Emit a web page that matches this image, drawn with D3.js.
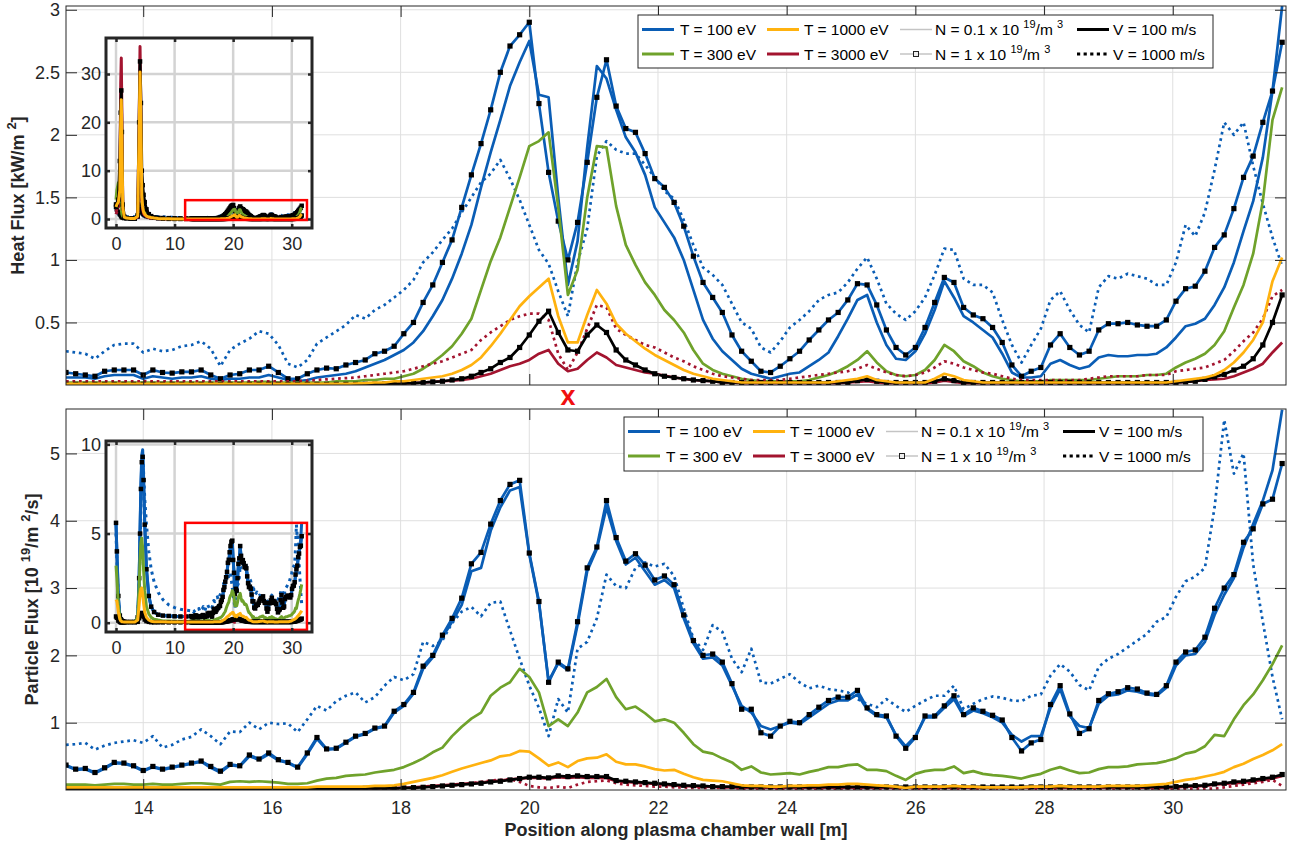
<!DOCTYPE html>
<html>
<head>
<meta charset="utf-8">
<title>Heat and particle flux along the plasma chamber wall</title>
<script src="https://cdn.jsdelivr.net/npm/d3@7/dist/d3.min.js"></script>
<style>
  html, body { margin: 0; padding: 0; background: #fff; }
  svg { display: block; }
  svg text { font-family: "Liberation Sans", Arial, Helvetica, sans-serif; white-space: pre; }
</style>
</head>
<body>
<svg id="fig" width="1298" height="846"></svg>
<script>
// ---------------- sampling positions along the wall [m] ----------------
const wallPosition = [
  12.80,12.95,13.10,13.25,13.40,13.55,13.70,13.85,14.00,14.15,
  14.30,14.45,14.60,14.75,14.90,15.05,15.20,15.35,15.50,15.65,
  15.80,15.95,16.10,16.25,16.40,16.55,16.70,16.85,17.00,17.15,
  17.30,17.45,17.60,17.75,17.90,18.05,18.20,18.35,18.50,18.65,
  18.80,18.95,19.10,19.25,19.40,19.55,19.70,19.85,20.00,20.15,
  20.30,20.45,20.60,20.75,20.90,21.05,21.20,21.35,21.50,21.65,
  21.80,21.95,22.10,22.25,22.40,22.55,22.70,22.85,23.00,23.15,
  23.30,23.45,23.60,23.75,23.90,24.05,24.20,24.35,24.50,24.65,
  24.80,24.95,25.10,25.25,25.40,25.55,25.70,25.85,26.00,26.15,
  26.30,26.45,26.60,26.75,26.90,27.05,27.20,27.35,27.50,27.65,
  27.80,27.95,28.10,28.25,28.40,28.55,28.70,28.85,29.00,29.15,
  29.30,29.45,29.60,29.75,29.90,30.05,30.20,30.35,30.50,30.65,
  30.80,30.95,31.10,31.25,31.40,31.55,31.70
];
// extra sampling positions for the full-wall overview (start of the wall)
const insetPosition = [0,0.15,0.4,0.65,0.8,0.9,1.0,1.15,1.4,1.8,2.5,3.2,3.7,3.95,4.1,4.25,4.4,4.55,4.7,4.9,5.2,5.6,6.0,6.5,7.2,8.0,9.0,10.0,11.0,12.0];

const wallTicks = [14,16,18,20,22,24,26,28,30];
const heatTicks = [0.5,1,1.5,2,2.5,3];
const particleTicks = [1,2,3,4,5];
const insetWallTicks = [0,10,20,30];
const heatInsetTicks = [0,10,20,30];
const particleInsetTicks = [0,5,10];

// ---------------- heat flux [kW/m^2] ----------------
const heatT100N1 = [
  0.10,0.09,0.08,0.07,0.11,0.12,0.12,0.12,0.08,0.12,
  0.10,0.095,0.105,0.105,0.12,0.08,0.05,0.08,0.09,0.12,
  0.12,0.15,0.10,0.05,0.05,0.09,0.12,0.135,0.13,0.16,
  0.18,0.20,0.25,0.27,0.31,0.41,0.50,0.66,0.80,0.98,
  1.16,1.42,1.68,1.93,2.20,2.50,2.71,2.80,2.90,2.25,
  1.70,1.31,1.00,1.30,1.78,2.30,2.60,2.23,2.05,2.02,
  1.85,1.65,1.58,1.46,1.27,1.03,0.82,0.70,0.58,0.40,
  0.27,0.19,0.11,0.10,0.15,0.21,0.27,0.36,0.44,0.52,
  0.58,0.68,0.81,0.80,0.64,0.44,0.30,0.24,0.30,0.46,
  0.66,0.86,0.82,0.62,0.56,0.53,0.46,0.34,0.16,0.07,
  0.11,0.14,0.32,0.41,0.30,0.24,0.27,0.44,0.49,0.49,
  0.50,0.48,0.47,0.47,0.52,0.67,0.77,0.79,0.91,1.10,
  1.20,1.41,1.66,1.83,2.10,2.35,2.74
];
const heatT100 = [
  0.06,0.06,0.06,0.05,0.07,0.08,0.08,0.08,0.05,0.07,
  0.06,0.05,0.06,0.06,0.07,0.05,0.04,0.05,0.05,0.06,
  0.06,0.08,0.06,0.04,0.03,0.04,0.06,0.07,0.08,0.09,
  0.11,0.14,0.17,0.20,0.24,0.28,0.34,0.43,0.55,0.68,
  0.85,1.05,1.28,1.58,1.86,2.12,2.39,2.58,2.75,2.32,
  2.30,1.50,0.80,1.15,1.90,2.55,2.45,2.20,1.98,1.86,
  1.68,1.42,1.30,1.18,1.00,0.76,0.52,0.37,0.27,0.20,
  0.13,0.09,0.07,0.05,0.07,0.09,0.10,0.15,0.20,0.26,
  0.39,0.53,0.68,0.72,0.50,0.32,0.21,0.20,0.27,0.41,
  0.60,0.83,0.70,0.55,0.50,0.44,0.38,0.25,0.10,0.06,
  0.06,0.07,0.17,0.20,0.16,0.13,0.15,0.22,0.24,0.23,
  0.23,0.24,0.24,0.25,0.30,0.38,0.47,0.49,0.53,0.64,
  0.78,0.98,1.23,1.47,1.82,2.35,3.03
];
const heatT100V1000 = [
  0.27,0.26,0.25,0.21,0.27,0.32,0.33,0.33,0.26,0.29,
  0.27,0.28,0.31,0.32,0.35,0.29,0.15,0.28,0.33,0.37,
  0.43,0.41,0.32,0.17,0.14,0.20,0.33,0.38,0.43,0.48,
  0.56,0.53,0.60,0.64,0.70,0.76,0.84,0.98,1.06,1.16,
  1.25,1.38,1.50,1.62,1.69,1.80,1.65,1.48,1.28,1.08,
  0.97,0.75,0.55,0.98,1.25,1.83,1.95,1.88,1.85,1.85,
  1.76,1.66,1.55,1.49,1.32,1.12,0.94,0.88,0.80,0.65,
  0.50,0.45,0.30,0.26,0.35,0.46,0.52,0.59,0.68,0.72,
  0.74,0.82,0.93,1.02,0.85,0.65,0.57,0.52,0.59,0.70,
  0.88,1.09,1.08,0.85,0.80,0.80,0.74,0.52,0.32,0.18,
  0.32,0.45,0.68,0.75,0.60,0.48,0.42,0.78,0.87,0.85,
  0.89,0.87,0.85,0.80,0.80,0.98,1.28,1.19,1.38,1.72,
  2.10,2.00,2.10,1.75,1.45,1.18,0.95
];
const heatT300 = [
  0.02,0.02,0.02,0.02,0.02,0.02,0.02,0.02,0.02,0.02,
  0.02,0.02,0.02,0.02,0.02,0.02,0.02,0.02,0.02,0.02,
  0.025,0.025,0.02,0.02,0.02,0.02,0.02,0.02,0.03,0.03,
  0.03,0.04,0.04,0.05,0.05,0.07,0.09,0.13,0.18,0.24,
  0.31,0.41,0.53,0.76,0.99,1.18,1.42,1.66,1.91,1.95,
  2.02,1.42,0.72,0.92,1.50,1.91,1.90,1.43,1.12,0.96,
  0.82,0.72,0.60,0.52,0.42,0.28,0.17,0.12,0.09,0.07,
  0.05,0.04,0.03,0.03,0.03,0.03,0.03,0.04,0.06,0.08,
  0.11,0.15,0.20,0.27,0.18,0.11,0.08,0.07,0.08,0.12,
  0.20,0.32,0.27,0.19,0.15,0.10,0.07,0.05,0.04,0.03,
  0.03,0.03,0.04,0.04,0.04,0.04,0.04,0.05,0.06,0.07,
  0.07,0.07,0.08,0.08,0.09,0.14,0.18,0.21,0.25,0.32,
  0.43,0.62,0.80,1.05,1.47,2.12,2.38
];
const heatT1000 = [
  0.01,0.01,0.01,0.01,0.01,0.01,0.01,0.01,0.01,0.01,
  0.01,0.01,0.01,0.01,0.01,0.01,0.01,0.01,0.01,0.01,
  0.01,0.01,0.01,0.01,0.01,0.01,0.01,0.01,0.01,0.01,
  0.012,0.015,0.02,0.02,0.03,0.03,0.04,0.05,0.06,0.07,
  0.09,0.12,0.16,0.22,0.31,0.41,0.52,0.63,0.71,0.78,
  0.85,0.55,0.34,0.34,0.56,0.76,0.65,0.49,0.41,0.35,
  0.29,0.24,0.20,0.16,0.12,0.09,0.07,0.05,0.04,0.03,
  0.02,0.02,0.02,0.02,0.02,0.02,0.02,0.02,0.02,0.02,
  0.03,0.04,0.05,0.07,0.04,0.03,0.02,0.02,0.02,0.02,
  0.05,0.09,0.07,0.04,0.03,0.02,0.02,0.02,0.02,0.02,
  0.02,0.02,0.02,0.02,0.02,0.02,0.02,0.02,0.02,0.02,
  0.02,0.02,0.02,0.02,0.02,0.03,0.04,0.05,0.06,0.08,
  0.12,0.18,0.26,0.36,0.50,0.83,1.02
];
const heatT3000V1000 = [
  0.03,0.03,0.03,0.03,0.03,0.03,0.03,0.03,0.03,0.03,
  0.03,0.03,0.03,0.03,0.03,0.03,0.03,0.03,0.03,0.03,
  0.03,0.03,0.03,0.03,0.03,0.035,0.04,0.045,0.05,0.055,
  0.06,0.07,0.08,0.09,0.10,0.11,0.13,0.15,0.17,0.19,
  0.22,0.25,0.28,0.36,0.42,0.47,0.52,0.55,0.57,0.57,
  0.52,0.25,0.12,0.26,0.45,0.64,0.62,0.45,0.40,0.36,
  0.32,0.30,0.26,0.22,0.19,0.15,0.12,0.09,0.07,0.06,
  0.05,0.04,0.04,0.04,0.04,0.05,0.06,0.07,0.08,0.09,
  0.10,0.11,0.13,0.16,0.13,0.10,0.08,0.07,0.08,0.10,
  0.14,0.19,0.17,0.14,0.12,0.10,0.09,0.07,0.05,0.04,
  0.04,0.04,0.04,0.04,0.04,0.04,0.05,0.06,0.07,0.07,
  0.07,0.07,0.08,0.08,0.08,0.11,0.12,0.13,0.14,0.17,
  0.20,0.27,0.35,0.42,0.53,0.71,0.76
];
const heatBlackN1 = [
  0.005,0.005,0.005,0.005,0.005,0.005,0.005,0.005,0.005,0.005,
  0.005,0.005,0.005,0.005,0.005,0.005,0.005,0.005,0.005,0.005,
  0.005,0.005,0.005,0.005,0.005,0.005,0.005,0.005,0.005,0.005,
  0.005,0.006,0.007,0.008,0.010,0.012,0.015,0.020,0.025,0.030,
  0.04,0.05,0.07,0.10,0.13,0.18,0.22,0.30,0.40,0.51,
  0.59,0.42,0.28,0.27,0.40,0.48,0.42,0.28,0.20,0.16,
  0.12,0.09,0.07,0.06,0.05,0.04,0.035,0.03,0.02,0.02,
  0.02,0.02,0.02,0.02,0.02,0.02,0.02,0.02,0.02,0.02,
  0.02,0.02,0.035,0.045,0.03,0.02,0.02,0.02,0.02,0.02,
  0.03,0.05,0.035,0.02,0.02,0.02,0.02,0.02,0.02,0.02,
  0.02,0.02,0.02,0.02,0.02,0.02,0.02,0.02,0.02,0.02,
  0.02,0.02,0.02,0.02,0.02,0.02,0.025,0.03,0.045,0.065,
  0.085,0.12,0.15,0.21,0.32,0.50,0.72
];
const heatT3000 = [
  0.005,0.005,0.005,0.005,0.005,0.005,0.005,0.005,0.005,0.005,
  0.005,0.005,0.005,0.005,0.005,0.005,0.005,0.005,0.005,0.005,
  0.005,0.005,0.005,0.005,0.005,0.005,0.005,0.005,0.005,0.005,
  0.005,0.01,0.01,0.01,0.01,0.012,0.015,0.02,0.025,0.03,
  0.035,0.04,0.05,0.07,0.09,0.12,0.15,0.17,0.20,0.25,
  0.28,0.17,0.11,0.13,0.20,0.26,0.22,0.16,0.14,0.12,
  0.10,0.09,0.075,0.06,0.05,0.04,0.035,0.03,0.02,0.02,
  0.015,0.015,0.015,0.015,0.015,0.015,0.015,0.015,0.015,0.015,
  0.015,0.02,0.025,0.03,0.02,0.015,0.015,0.015,0.015,0.015,
  0.02,0.035,0.025,0.015,0.015,0.015,0.015,0.015,0.015,0.015,
  0.015,0.015,0.015,0.015,0.015,0.015,0.015,0.015,0.015,0.015,
  0.015,0.015,0.015,0.015,0.015,0.02,0.025,0.03,0.04,0.045,
  0.05,0.07,0.10,0.13,0.17,0.26,0.34
];

// heat flux over the start of the wall (overview only)
const heatStartT100N1 = [3,2,1.5,1,0.8,0.6,0.4,0.3,0.2,0.15,0.1,0.1,0.5,2,3,2,1.5,1.2,1,0.8,0.6,0.45,0.35,0.3,0.25,0.2,0.18,0.15,0.13,0.12];
const heatStartT100 = [2,1.4,1,0.7,0.5,0.4,0.3,0.2,0.15,0.1,0.08,0.08,0.3,1.3,2,1.4,1,0.8,0.6,0.5,0.4,0.3,0.25,0.2,0.15,0.12,0.1,0.08,0.07,0.06];
const heatStartT100V1000 = [2.5,2,1.6,1.2,1,0.9,0.8,0.7,0.6,0.5,0.45,0.45,0.8,2,2.8,2.5,2,1.6,1.3,1.1,0.9,0.75,0.65,0.55,0.5,0.45,0.4,0.35,0.3,0.28];
const heatStartT300 = [4,6,7.5,5,3,2,1,0.5,0.3,0.2,0.1,0.1,1,8,11,7,3.5,2.5,2,1.5,1,0.6,0.4,0.25,0.15,0.1,0.06,0.04,0.03,0.02];
const heatStartT1000 = [2.5,3,3.5,6,20,24.7,17,2.5,0.4,0.2,0.1,0.1,0.6,18,30.4,20,5,2.5,1.5,1,0.6,0.4,0.3,0.2,0.1,0.05,0.03,0.02,0.02,0.01];
const heatStartT3000V1000 = [1,1.5,2,5,15,18,12,2,0.4,0.2,0.1,0.1,0.4,12,20,14,4,2,1.2,0.8,0.5,0.3,0.2,0.12,0.08,0.05,0.04,0.03,0.03,0.03];
const heatStartBlackN1 = [2.5,3,4,12,22,26.6,18,3,0.5,0.2,0.1,0.1,0.8,20,32.6,24,10,7,5,3.5,2,1,0.6,0.3,0.15,0.08,0.03,0.02,0.01,0.01];
const heatStartT3000 = [1.5,2,3,8,28,33.3,22,3,0.5,0.2,0.1,0.1,0.5,20,35.7,22,5,2,1.2,0.8,0.5,0.3,0.2,0.1,0.05,0.02,0.02,0.01,0.01,0.01];

// ---------------- particle flux [10^19 / m^2 / s] ----------------
const partT100N1 = [
  0.37,0.31,0.32,0.26,0.33,0.41,0.40,0.36,0.29,0.35,
  0.31,0.34,0.37,0.40,0.43,0.35,0.28,0.38,0.36,0.52,
  0.46,0.55,0.45,0.41,0.34,0.55,0.78,0.61,0.62,0.71,
  0.80,0.84,0.92,0.95,1.17,1.27,1.45,1.84,2.00,2.30,
  2.55,2.85,3.36,3.53,3.95,4.30,4.54,4.60,3.52,2.80,
  1.60,1.90,1.80,2.50,3.30,3.61,4.30,3.75,3.40,3.51,
  3.34,3.12,3.18,3.05,2.60,2.22,2.00,2.02,1.90,1.58,
  1.20,1.20,0.85,0.80,0.95,1.02,1.00,1.12,1.23,1.33,
  1.38,1.38,1.48,1.22,1.12,1.10,0.80,0.62,0.78,1.10,
  1.10,1.25,1.40,1.12,1.22,1.17,1.11,1.04,0.78,0.58,
  0.70,0.75,1.27,1.55,1.13,0.84,0.91,1.33,1.43,1.46,
  1.52,1.50,1.44,1.42,1.55,1.90,2.05,2.08,2.27,2.70,
  3.00,3.20,3.68,3.88,4.25,4.32,4.85
];
const partT100 = [
  0.36,0.30,0.31,0.25,0.32,0.40,0.39,0.35,0.28,0.34,
  0.30,0.33,0.36,0.39,0.42,0.33,0.26,0.37,0.35,0.50,
  0.45,0.53,0.44,0.40,0.33,0.53,0.76,0.60,0.61,0.70,
  0.79,0.83,0.91,0.94,1.15,1.25,1.43,1.80,1.97,2.27,
  2.50,2.75,3.25,3.30,3.85,4.20,4.45,4.50,3.50,2.78,
  1.62,1.88,1.78,2.45,3.25,3.58,4.20,3.70,3.35,3.45,
  3.25,3.05,3.12,3.00,2.55,2.18,1.95,1.97,1.85,1.55,
  1.25,1.15,0.95,0.90,0.95,1.00,0.98,1.08,1.18,1.28,
  1.33,1.33,1.42,1.20,1.10,1.08,0.82,0.65,0.80,1.08,
  1.08,1.22,1.35,1.10,1.18,1.14,1.08,1.00,0.82,0.72,
  0.80,0.80,1.22,1.50,1.10,0.95,0.92,1.28,1.40,1.42,
  1.48,1.46,1.42,1.40,1.52,1.85,2.00,2.02,2.20,2.60,
  2.90,3.15,3.60,3.95,4.30,4.75,5.65
];
const partT100V1000 = [
  0.67,0.68,0.70,0.60,0.66,0.70,0.72,0.74,0.70,0.80,
  0.63,0.67,0.75,0.79,0.90,0.80,0.68,0.87,0.86,1.00,
  0.90,1.00,0.98,0.99,0.86,1.05,1.25,1.18,1.32,1.40,
  1.45,1.30,1.38,1.55,1.68,1.63,1.72,2.20,2.14,2.22,
  2.48,2.65,2.72,2.58,2.78,2.80,2.37,1.95,1.55,1.22,
  0.80,1.35,1.15,2.10,2.20,2.55,3.20,3.03,3.00,3.30,
  3.38,3.32,3.36,3.18,2.70,2.25,2.08,2.45,2.35,1.95,
  1.75,2.10,1.60,1.58,1.65,1.72,1.60,1.51,1.55,1.50,
  1.48,1.45,1.35,1.28,1.23,1.35,1.25,1.16,1.25,1.33,
  1.40,1.40,1.55,1.20,1.28,1.35,1.39,1.37,1.33,1.32,
  1.40,1.42,1.70,1.87,1.76,1.56,1.48,1.83,1.95,2.02,
  2.12,2.22,2.32,2.50,2.57,2.87,3.10,3.17,3.30,4.20,
  5.50,4.70,5.00,3.35,2.50,1.68,1.05
];
const partT300 = [
  0.08,0.08,0.08,0.07,0.08,0.09,0.09,0.08,0.08,0.09,
  0.08,0.08,0.09,0.10,0.10,0.09,0.08,0.12,0.13,0.12,
  0.13,0.12,0.11,0.09,0.09,0.10,0.14,0.17,0.18,0.21,
  0.22,0.23,0.26,0.28,0.30,0.34,0.40,0.47,0.56,0.63,
  0.80,0.94,1.06,1.15,1.40,1.52,1.60,1.80,1.68,1.45,
  0.95,1.05,0.95,1.15,1.45,1.53,1.65,1.38,1.20,1.24,
  1.14,1.02,1.05,1.00,0.85,0.68,0.57,0.54,0.47,0.41,
  0.30,0.35,0.26,0.23,0.24,0.25,0.23,0.27,0.30,0.34,
  0.34,0.37,0.38,0.30,0.30,0.28,0.21,0.15,0.24,0.28,
  0.30,0.30,0.35,0.25,0.28,0.24,0.22,0.21,0.19,0.17,
  0.21,0.24,0.30,0.34,0.29,0.25,0.26,0.31,0.34,0.34,
  0.35,0.38,0.39,0.40,0.43,0.47,0.54,0.57,0.65,0.82,
  0.80,1.05,1.26,1.42,1.63,1.87,2.15
];
const partT1000 = [
  0.04,0.04,0.04,0.04,0.04,0.04,0.04,0.04,0.04,0.04,
  0.04,0.04,0.04,0.04,0.04,0.04,0.04,0.04,0.04,0.04,
  0.04,0.04,0.04,0.04,0.04,0.04,0.05,0.05,0.05,0.05,
  0.05,0.05,0.06,0.06,0.07,0.09,0.12,0.15,0.18,0.22,
  0.27,0.32,0.36,0.40,0.44,0.50,0.52,0.58,0.57,0.47,
  0.36,0.41,0.34,0.43,0.47,0.48,0.53,0.42,0.38,0.38,
  0.35,0.31,0.29,0.30,0.24,0.19,0.15,0.14,0.13,0.10,
  0.07,0.06,0.06,0.05,0.05,0.06,0.06,0.07,0.07,0.08,
  0.08,0.09,0.09,0.08,0.07,0.06,0.05,0.03,0.05,0.05,
  0.05,0.05,0.06,0.05,0.05,0.04,0.04,0.04,0.04,0.04,
  0.05,0.05,0.05,0.06,0.05,0.05,0.05,0.05,0.06,0.06,
  0.06,0.06,0.07,0.08,0.09,0.12,0.15,0.17,0.20,0.23,
  0.27,0.34,0.39,0.46,0.52,0.59,0.68
];
const partT3000V1000 = [
  0.02,0.02,0.02,0.02,0.02,0.02,0.02,0.02,0.02,0.02,
  0.02,0.02,0.02,0.02,0.02,0.02,0.02,0.02,0.02,0.02,
  0.02,0.02,0.02,0.02,0.02,0.02,0.02,0.02,0.02,0.02,
  0.02,0.02,0.02,0.02,0.02,0.03,0.03,0.04,0.05,0.06,
  0.07,0.08,0.10,0.12,0.14,0.15,0.16,0.12,0.06,0.04,
  0.03,0.05,0.03,0.08,0.12,0.13,0.14,0.10,0.08,0.07,
  0.06,0.05,0.05,0.04,0.04,0.03,0.03,0.03,0.03,0.03,
  0.02,0.02,0.02,0.02,0.02,0.02,0.02,0.02,0.02,0.02,
  0.02,0.02,0.02,0.02,0.02,0.02,0.02,0.02,0.02,0.02,
  0.02,0.02,0.02,0.02,0.02,0.02,0.02,0.02,0.02,0.02,
  0.02,0.02,0.02,0.02,0.02,0.02,0.02,0.02,0.02,0.02,
  0.02,0.02,0.02,0.02,0.02,0.02,0.02,0.02,0.02,0.02,
  0.04,0.06,0.08,0.10,0.12,0.15,0.06
];
const partBlackN1 = [
  0.02,0.02,0.02,0.02,0.02,0.02,0.02,0.02,0.02,0.02,
  0.02,0.02,0.02,0.02,0.02,0.02,0.02,0.02,0.02,0.02,
  0.02,0.02,0.02,0.02,0.02,0.02,0.02,0.02,0.02,0.02,
  0.02,0.025,0.025,0.025,0.025,0.03,0.035,0.04,0.05,0.06,
  0.07,0.08,0.09,0.10,0.12,0.13,0.15,0.17,0.19,0.19,
  0.18,0.21,0.20,0.21,0.20,0.20,0.20,0.14,0.13,0.12,
  0.11,0.10,0.09,0.08,0.07,0.065,0.06,0.05,0.05,0.05,
  0.045,0.045,0.045,0.045,0.045,0.045,0.045,0.045,0.045,0.045,
  0.045,0.045,0.045,0.045,0.045,0.045,0.045,0.045,0.045,0.045,
  0.045,0.045,0.045,0.045,0.045,0.045,0.045,0.045,0.045,0.045,
  0.045,0.045,0.045,0.045,0.045,0.045,0.045,0.045,0.045,0.045,
  0.045,0.045,0.045,0.045,0.045,0.05,0.06,0.065,0.07,0.09,
  0.10,0.12,0.13,0.15,0.17,0.19,0.23
];
const partT3000 = [
  0.02,0.02,0.02,0.02,0.02,0.02,0.02,0.02,0.02,0.02,
  0.02,0.02,0.02,0.02,0.02,0.02,0.02,0.02,0.02,0.02,
  0.02,0.02,0.02,0.02,0.02,0.02,0.02,0.02,0.02,0.02,
  0.02,0.02,0.025,0.025,0.03,0.035,0.04,0.05,0.06,0.07,
  0.08,0.09,0.10,0.11,0.13,0.14,0.16,0.17,0.18,0.18,
  0.17,0.19,0.18,0.19,0.18,0.18,0.18,0.13,0.12,0.11,
  0.10,0.09,0.08,0.07,0.06,0.055,0.05,0.045,0.04,0.04,
  0.035,0.035,0.035,0.035,0.035,0.035,0.035,0.035,0.035,0.035,
  0.035,0.035,0.035,0.035,0.035,0.035,0.035,0.035,0.035,0.035,
  0.035,0.035,0.035,0.035,0.035,0.035,0.035,0.035,0.035,0.035,
  0.035,0.035,0.035,0.035,0.035,0.035,0.035,0.035,0.035,0.035,
  0.035,0.035,0.035,0.035,0.035,0.04,0.05,0.055,0.06,0.08,
  0.09,0.10,0.11,0.13,0.15,0.17,0.21
];

// particle flux over the start of the wall (overview only)
const partStartT100N1 = [5.6,4,1.5,0.4,0.2,0.15,0.1,0.08,0.06,0.05,0.05,0.05,0.3,2.5,5,7.5,9,9.3,8,5.5,3,1.5,0.9,0.6,0.45,0.4,0.38,0.36,0.35,0.35];
const partStartT100 = [5.5,3.9,1.4,0.4,0.2,0.15,0.1,0.08,0.06,0.05,0.05,0.05,0.3,2.6,5.2,7.8,9.4,9.7,8.3,5.6,3,1.5,0.9,0.6,0.45,0.4,0.38,0.36,0.35,0.35];
const partStartT100V1000 = [5,3.5,1.2,0.4,0.2,0.15,0.12,0.1,0.08,0.07,0.06,0.06,0.3,2,4,6.5,8.5,9.5,8.5,7,5.5,4,3,2.3,1.7,1.3,1.0,0.85,0.75,0.7];
const partStartT300 = [3.2,2.5,1,0.3,0.15,0.1,0.08,0.06,0.05,0.05,0.05,0.05,0.3,2,3.5,4.5,4.75,4.2,3,1.8,0.9,0.5,0.3,0.2,0.15,0.1,0.09,0.08,0.08,0.08];
const partStartT1000 = [1.3,1.2,0.6,0.2,0.1,0.08,0.06,0.05,0.04,0.04,0.04,0.04,0.15,1,1.6,1.9,1.95,1.6,1.1,0.6,0.3,0.15,0.08,0.06,0.05,0.05,0.04,0.04,0.04,0.04];
const partStartT3000V1000 = [0.3,0.25,0.12,0.05,0.03,0.03,0.02,0.02,0.02,0.02,0.02,0.02,0.05,0.2,0.35,0.45,0.5,0.45,0.3,0.15,0.08,0.05,0.03,0.02,0.02,0.02,0.02,0.02,0.02,0.02];
const partStartBlackN1 = [0.35,0.28,0.12,0.05,0.03,0.03,0.02,0.02,0.02,0.02,0.02,0.02,0.05,0.25,0.4,0.5,0.55,0.5,0.35,0.18,0.09,0.05,0.03,0.02,0.02,0.02,0.02,0.02,0.02,0.02];
const partStartT3000 = [0.3,0.25,0.1,0.05,0.03,0.03,0.02,0.02,0.02,0.02,0.02,0.02,0.05,0.22,0.38,0.48,0.5,0.45,0.32,0.16,0.08,0.05,0.03,0.02,0.02,0.02,0.02,0.02,0.02,0.02];

// zoom window drawn on each overview, and the marked wall position
const heatZoomWindow = {x0: 11.8, x1: 32.6, y0: -0.2, y1: 3.9};
const particleZoomWindow = {x0: 11.8, x1: 32.6, y0: -0.4, y1: 5.6};
const markedPosition = 20.6;

// legend content: columns are filled top to bottom
const legendLabels = [
  [['T = 100 eV']], [['T = 300 eV']], [['T = 1000 eV']], [['T = 3000 eV']],
  [['N = 0.1 x 10 '], ['19', 1], ['/m '], ['3', 1]],
  [['N = 1 x 10 '], ['19', 1], ['/m '], ['3', 1]],
  [['V = 100 m/s']], [['V = 1000 m/s']]
];
const legendKeys = ['t100', 't300', 't1000', 't3000', 'n01', 'n1', 'v100', 'v1000'];

// ---------------- styling ----------------
const C = {
  t100: '#0a5db5', t300: '#6fa22b', t1000: '#ffb20f', t3000: '#a3142f',
  black: '#000000', axis: '#262626', grid: '#dfdfdf', insetGrid: '#d3d3d3', frame: 'red'
};
const FONT = 18;
const svg = d3.select('#fig');

function styleFor(key) {
  switch (key) {
    case 'A': return {color: C.t100, dotted: false, markers: true};
    case 'B': return {color: C.t100, dotted: false};
    case 'C': return {color: C.t100, dotted: true};
    case 'D': return {color: C.t300, dotted: false};
    case 'E': return {color: C.t1000, dotted: false};
    case 'F': return {color: C.t3000, dotted: true};
    case 'G': return {color: C.black, dotted: false, markers: true};
    case 'H': return {color: C.t3000, dotted: false};
  }
}
// drawing order: dotted blue, plain blue, blue with markers, green, dotted red, red, black, orange
const heatSeries = [
  {key: 'C', values: heatT100V1000, start: heatStartT100V1000},
  {key: 'B', values: heatT100, start: heatStartT100},
  {key: 'A', values: heatT100N1, start: heatStartT100N1},
  {key: 'D', values: heatT300, start: heatStartT300},
  {key: 'F', values: heatT3000V1000, start: heatStartT3000V1000},
  {key: 'H', values: heatT3000, start: heatStartT3000},
  {key: 'G', values: heatBlackN1, start: heatStartBlackN1},
  {key: 'E', values: heatT1000, start: heatStartT1000}
];
const particleSeries = [
  {key: 'C', values: partT100V1000, start: partStartT100V1000},
  {key: 'B', values: partT100, start: partStartT100},
  {key: 'A', values: partT100N1, start: partStartT100N1},
  {key: 'D', values: partT300, start: partStartT300},
  {key: 'F', values: partT3000V1000, start: partStartT3000V1000},
  {key: 'H', values: partT3000, start: partStartT3000},
  {key: 'G', values: partBlackN1, start: partStartBlackN1},
  {key: 'E', values: partT1000, start: partStartT1000}
];

let clipCount = 0;
function addClip(x0, y0, w, h) {
  const id = 'clip' + (clipCount++);
  svg.append('clipPath').attr('id', id).append('rect')
    .attr('x', x0).attr('y', y0).attr('width', w).attr('height', h);
  return 'url(#' + id + ')';
}

// text with raised parts (exponents)
function richText(sel, parts, size) {
  let shift = 0;
  parts.forEach(([t, sup]) => {
    const target = sup ? -Math.round(size * 0.45) : 0;
    sel.append('tspan')
      .attr('dy', target - shift)
      .attr('font-size', sup ? Math.round(size * 0.72) : size)
      .text(t);
    shift = target;
  });
}

function styleAxis(g, size) {
  g.select('.domain').remove();
  g.selectAll('line').attr('stroke', C.axis).attr('stroke-width', 1);
  g.selectAll('text').attr('fill', C.axis).attr('font-size', size)
    .attr('font-family', '"Liberation Sans", Arial, Helvetica, sans-serif');
  g.attr('font-family', null).attr('font-size', null);
}

function drawSeries(layer, x, y, s, pos, vals, lw, ms) {
  const st = styleFor(s.key);
  const pts = pos.map((p, i) => [p, vals[i]]);
  layer.append('path')
    .attr('d', d3.line().x(d => x(d[0])).y(d => y(d[1]))(pts))
    .attr('fill', 'none')
    .attr('stroke', st.color)
    .attr('stroke-width', lw)
    .attr('stroke-linejoin', 'round')
    .attr('stroke-dasharray', st.dotted ? (lw * 1.0) + ',' + (lw * 1.4) : null);
  if (st.markers) {
    layer.append('g').selectAll('rect').data(pts).join('rect')
      .attr('x', d => x(d[0]) - ms / 2).attr('y', d => y(d[1]) - ms / 2)
      .attr('width', ms).attr('height', ms).attr('fill', '#000');
  }
}

// ---------------- main panels ----------------
const plotLeft = 66, plotRight = 1286;
const xMain = d3.scaleLinear().domain([12.8, 31.76]).range([plotLeft, plotRight]);

function drawPanel(p) {
  const y = d3.scaleLinear().domain(p.yDomain).range([p.bottom, p.top]);
  const g = svg.append('g');
  // grid
  g.append('g').selectAll('line').data(wallTicks).join('line')
    .attr('x1', d => xMain(d)).attr('x2', d => xMain(d))
    .attr('y1', p.top).attr('y2', p.bottom)
    .attr('stroke', C.grid).attr('stroke-width', 1);
  g.append('g').selectAll('line').data(p.yTicks).join('line')
    .attr('x1', plotLeft).attr('x2', plotRight)
    .attr('y1', d => y(d)).attr('y2', d => y(d))
    .attr('stroke', C.grid).attr('stroke-width', 1);
  // data
  const layer = g.append('g').attr('clip-path', addClip(plotLeft, p.top, plotRight - plotLeft, p.bottom - p.top));
  p.series.forEach(s => drawSeries(layer, xMain, y, s, wallPosition, s.values, 2.7, 5.2));
  // axes (ticks point inward on all four sides)
  const ax = g.append('g');
  ax.append('g').attr('transform', `translate(0,${p.bottom})`)
    .call(d3.axisBottom(xMain).tickValues(wallTicks).tickSize(-11).tickPadding(11)
      .tickFormat(p.xLabels ? d3.format('d') : () => ''))
    .call(a => styleAxis(a, FONT));
  ax.append('g').attr('transform', `translate(0,${p.top})`)
    .call(d3.axisTop(xMain).tickValues(wallTicks).tickSize(-11).tickFormat(() => ''))
    .call(a => styleAxis(a, FONT));
  ax.append('g').attr('transform', `translate(${plotLeft},0)`)
    .call(d3.axisLeft(y).tickValues(p.yTicks).tickSize(-11).tickPadding(6).tickFormat(d3.format('~g')))
    .call(a => styleAxis(a, FONT));
  ax.append('g').attr('transform', `translate(${plotRight},0)`)
    .call(d3.axisRight(y).tickValues(p.yTicks).tickSize(-11).tickFormat(() => ''))
    .call(a => styleAxis(a, FONT));
  g.append('rect').attr('x', plotLeft).attr('y', p.top)
    .attr('width', plotRight - plotLeft).attr('height', p.bottom - p.top)
    .attr('fill', 'none').attr('stroke', C.axis).attr('stroke-width', 1);
  // y label
  const yl = g.append('text')
    .attr('transform', `translate(${p.yLabelX},${(p.top + p.bottom) / 2}) rotate(-90)`)
    .attr('text-anchor', 'middle').attr('font-weight', 'bold').attr('fill', C.axis)
    .attr('font-size', FONT).attr('dy', '0.35em');
  richText(yl, p.yLabel, FONT);
  return y;
}

const yHeat = drawPanel({
  top: 6, bottom: 385, yDomain: [0, 3.03], yTicks: heatTicks, series: heatSeries,
  xLabels: false, yLabelX: 24, yLabel: [['Heat Flux [kW/m '], ['2', 1], [']']]
});
const yPart = drawPanel({
  top: 409, bottom: 790, yDomain: [0, 5.66], yTicks: particleTicks, series: particleSeries,
  xLabels: true, yLabelX: 38, yLabel: [['Particle Flux [10 '], ['19', 1], ['/m '], ['2', 1], ['/s]']]
});

// x axis title
svg.append('text').attr('x', 676).attr('y', 836).attr('text-anchor', 'middle')
  .attr('font-weight', 'bold').attr('font-size', FONT).attr('fill', C.axis)
  .text('Position along plasma chamber wall [m]');

// marked wall position below the heat-flux panel
svg.append('text').attr('x', xMain(markedPosition)).attr('y', 405)
  .attr('text-anchor', 'middle').attr('font-weight', 'bold').attr('font-size', 27)
  .attr('fill', '#f01010').text('x');

// ---------------- full-wall overviews ----------------
function drawInset(p) {
  const left = 106, right = 312;
  const x = d3.scaleLinear().domain([-1.71, 33.46]).range([left, right]);
  const y = d3.scaleLinear().domain(p.yDomain).range([p.bottom, p.top]);
  const g = svg.append('g');
  g.append('rect').attr('x', left).attr('y', p.top).attr('width', right - left)
    .attr('height', p.bottom - p.top).attr('fill', '#fff');
  g.append('g').selectAll('line').data(insetWallTicks).join('line')
    .attr('x1', d => x(d)).attr('x2', d => x(d)).attr('y1', p.top).attr('y2', p.bottom)
    .attr('stroke', C.insetGrid).attr('stroke-width', 2.5);
  g.append('g').selectAll('line').data(p.yTicks).join('line')
    .attr('x1', left).attr('x2', right).attr('y1', d => y(d)).attr('y2', d => y(d))
    .attr('stroke', C.insetGrid).attr('stroke-width', 2.5);
  const layer = g.append('g').attr('clip-path', addClip(left, p.top, right - left, p.bottom - p.top));
  const pos = insetPosition.concat(wallPosition);
  p.series.forEach(s => drawSeries(layer, x, y, s, pos, s.start.concat(s.values), 3, 4.5));
  const w = p.window;
  g.append('rect').attr('x', x(w.x0)).attr('y', y(w.y1))
    .attr('width', x(w.x1) - x(w.x0)).attr('height', y(w.y0) - y(w.y1))
    .attr('fill', 'none').attr('stroke', C.frame).attr('stroke-width', 2.5);
  const ax = g.append('g');
  ax.append('g').attr('transform', `translate(0,${p.bottom})`)
    .call(d3.axisBottom(x).tickValues(insetWallTicks).tickSize(-4).tickPadding(9).tickFormat(d3.format('d')))
    .call(a => styleAxis(a, FONT));
  ax.append('g').attr('transform', `translate(0,${p.top})`)
    .call(d3.axisTop(x).tickValues(insetWallTicks).tickSize(-4).tickFormat(() => ''))
    .call(a => styleAxis(a, FONT));
  ax.append('g').attr('transform', `translate(${left},0)`)
    .call(d3.axisLeft(y).tickValues(p.yTicks).tickSize(-4).tickPadding(5).tickFormat(d3.format('d')))
    .call(a => styleAxis(a, FONT));
  ax.append('g').attr('transform', `translate(${right},0)`)
    .call(d3.axisRight(y).tickValues(p.yTicks).tickSize(-4).tickFormat(() => ''))
    .call(a => styleAxis(a, FONT));
  ax.selectAll('.tick line').attr('stroke-width', 2.5);
  g.append('rect').attr('x', left).attr('y', p.top).attr('width', right - left)
    .attr('height', p.bottom - p.top).attr('fill', 'none')
    .attr('stroke', C.axis).attr('stroke-width', 3);
}

drawInset({top: 38, bottom: 228, yDomain: [-1.86, 37.45], yTicks: heatInsetTicks,
  series: heatSeries, window: heatZoomWindow});
drawInset({top: 441, bottom: 632, yDomain: [-0.52, 10.19], yTicks: particleInsetTicks,
  series: particleSeries, window: particleZoomWindow});

// ---------------- legends ----------------
const legendCols = {line: [4, 129, 262, 439], text: [42, 166, 297, 475]};
const legendRows = [14.5, 39];
function drawLegend(bx, by, bw, bh) {
  const g = svg.append('g').attr('transform', `translate(${bx},${by})`);
  g.append('rect').attr('width', bw).attr('height', bh)
    .attr('fill', '#fff').attr('stroke', C.axis).attr('stroke-width', 1);
  legendKeys.forEach((key, i) => {
    const col = Math.floor(i / 2), row = i % 2;
    const ly = legendRows[row];
    const x0 = legendCols.line[col], x1 = x0 + 32;
    let stroke = '#000', width = 3, dash = null;
    if (key === 't100') stroke = C.t100;
    else if (key === 't300') stroke = C.t300;
    else if (key === 't1000') stroke = C.t1000;
    else if (key === 't3000') stroke = C.t3000;
    else if (key === 'n01' || key === 'n1') { stroke = '#c4c4c4'; width = 1.5; }
    else if (key === 'v1000') dash = '3.2,3.4';
    g.append('line').attr('x1', x0).attr('x2', x1).attr('y1', ly).attr('y2', ly)
      .attr('stroke', stroke).attr('stroke-width', width).attr('stroke-dasharray', dash);
    if (key === 'n1') {
      g.append('rect').attr('x', (x0 + x1) / 2 - 2.5).attr('y', ly - 2.5)
        .attr('width', 5).attr('height', 5).attr('fill', '#ececec')
        .attr('stroke', '#222').attr('stroke-width', 1);
    }
    const t = g.append('text').attr('x', legendCols.text[col]).attr('y', ly + 5.5)
      .attr('font-size', 15.5).attr('fill', '#000');
    richText(t, legendLabels[i], 15.5);
  });
}
drawLegend(638, 15, 575, 53);
drawLegend(624, 417, 579, 54);
</script>
</body>
</html>
